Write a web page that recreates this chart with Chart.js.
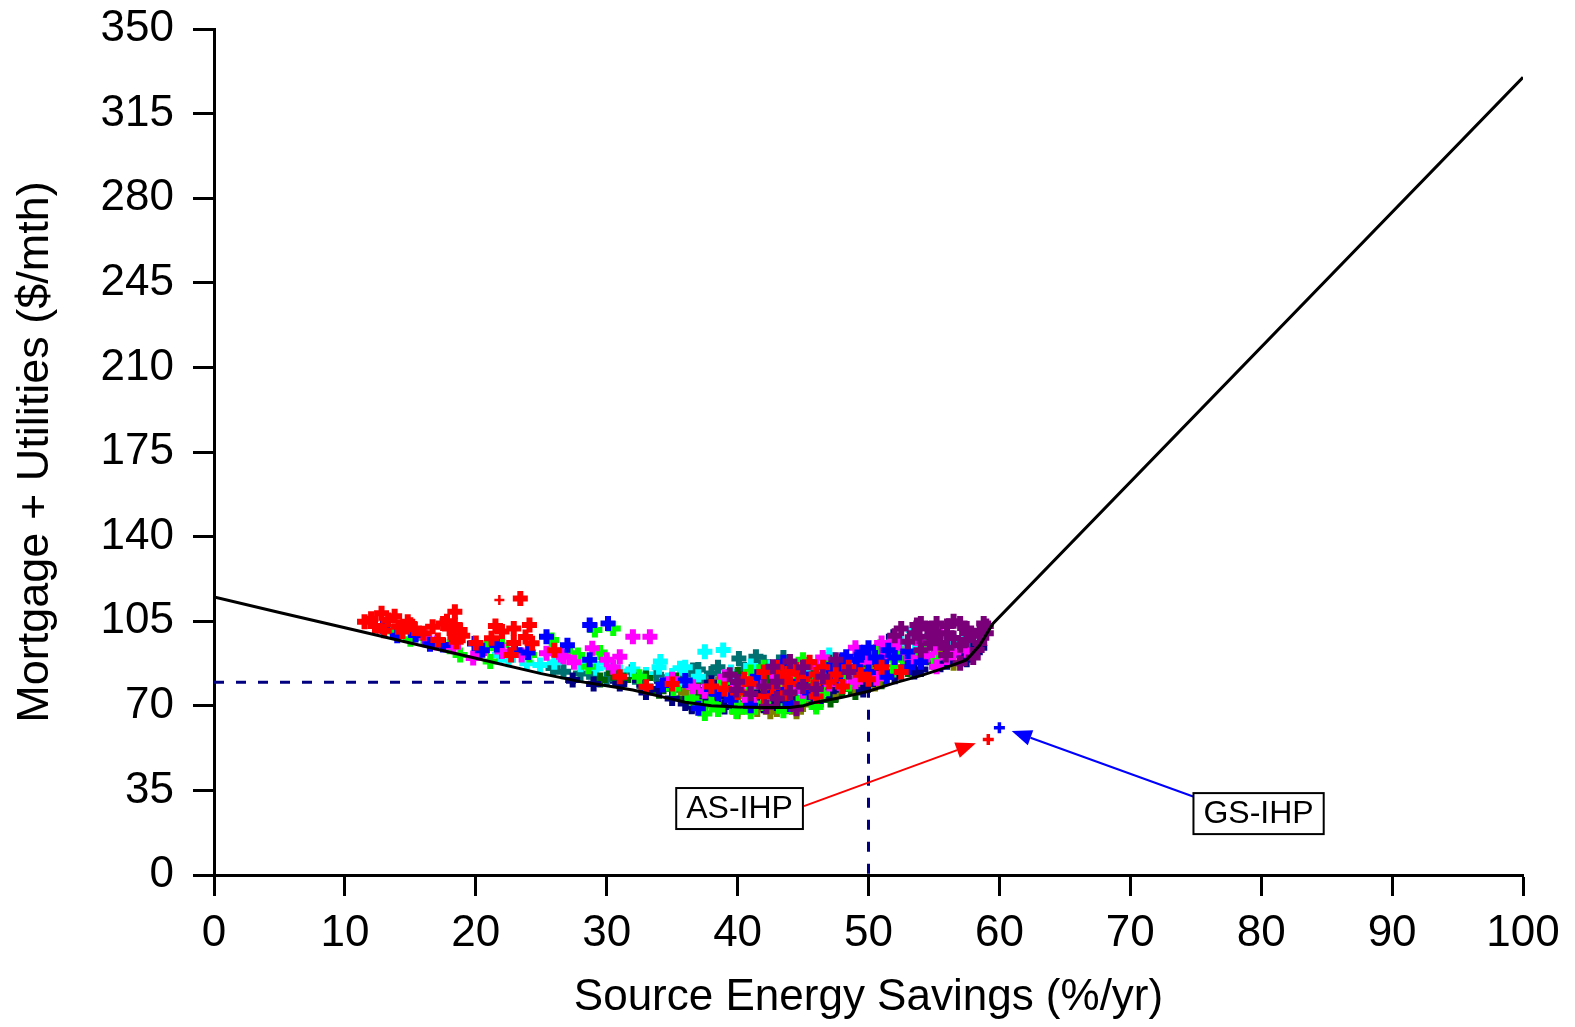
<!DOCTYPE html>
<html>
<head>
<meta charset="utf-8">
<script src="https://cdn.jsdelivr.net/npm/chart.js@4/dist/chart.umd.min.js"></script>
<style>
  html, body { margin: 0; padding: 0; background: #ffffff; }
  #wrap { width: 1575px; height: 1027px; }
</style>
</head>
<body>
<div id="wrap"><canvas id="c" width="1575" height="1027"></canvas></div>
<script>
// ---------- data ----------
const xTicks = [0, 10, 20, 30, 40, 50, 60, 70, 80, 90, 100];
const yTicks = [0, 35, 70, 105, 140, 175, 210, 245, 280, 315, 350];
const xTitle = 'Source Energy Savings (%/yr)';
const yTitle = 'Mortgage + Utilities ($/mth)';

// minimum-cost curve
const curveX = [0, 5, 10, 15, 20, 25, 28, 30, 32, 34, 36, 38, 40, 42, 44, 45, 46, 48, 50, 52, 54, 56, 57.5, 58.5, 59.5, 100];
const curveY = [115, 108.6, 102.3, 96, 89.7, 83.3, 80, 78.3, 76.5, 74, 71.5, 70, 69.5, 69.3, 69.3, 70, 71.5, 73.5, 76, 79.5, 82.5, 86, 89, 95, 104, 330];

// reference dashed lines (target 50 % savings)
const refX = [0, 50, 50];
const refY = [79.7, 79.7, 0];

// scatter of design options, by colour group
const redPts = [[11.5,104.8],[12.8,108.3],[13.3,105.5],[14.1,102.7],[14.8,104.8],[14.4,100.7],[16.7,102.7],[17.1,97.2],[18.4,108.9],[18.4,103.4],[18.4,98.6],[18.0,102],[18.8,101.4],[18.5,96.5],[23.4,114.4],[22.0,100.7],[21.2,97.9],[22.9,102],[24.1,103.4],[22.9,96],[24.3,95.9],[22.7,91],[33.0,77.9],[43.5,82],[42.7,77.9],[43.8,83.4],[45.8,77.9],[49.4,82.8],[43.8,75.2],[46.0,73.8],[41,79],[44,79],[45,81],[47,80],[48,78],[46,83],[42,74],[12.3,103],[15.3,102],
  [39,77],[40.5,81],[42,84],[44.5,85],[46.5,86],[47.5,83],[38,78],[35,79],[31,82],[26,93],[20,96],[16,100],[17.5,104],[13,101],[50,81],[51,86],
  [12,106],[13.8,107],[15,103.5],[17.8,105],[19,99],[23.8,98.5],[21.5,103],[40,75.5],[43,86],[45.5,88],[48.5,86],[52.5,84]];
const redThinPts = [[21.8,113.8]];
const bluePts = [[12.9,102.7],[15.4,99.3],[17.5,95.2],[19.9,95.8],[21.6,95.2],[25.4,98.6],[28.7,103.4],[30.1,104.1],[28.7,89],[42.7,75.2],[34.3,78.6],[48.3,90.3],[49.1,89],[47.8,87],[44.8,80],[51.4,82],[46,78],[47,85],[49,86],[50,84],[52,90],[44,70.5],[48,89],[37,69],[20.5,93],[23,93],
  [38,77],[40,80],[43,76.5],[45,83],[49.5,92],[50.5,90],[51,88],[53,86],[41.5,82],[36,80.5],[24,92],[27,95],[14,99],[16.5,95.5],
  [39.5,72.5],[41,70],[45.5,75.5],[47.5,81.5],[50,94],[51.5,93],[53,92.5],[54,88],[43.5,88],[38.5,75]];
const greenPts = [[13.7,100.7],[18,94.4],[20.8,93.8],[25.8,97.2],[18.8,91],[21.1,88.3],[24.1,91],[29.1,101.4],[30.5,102],[27.2,91.7],[27.8,91],[28.6,86.2],[35.1,77.2],[37.1,69.6],[39.9,67.6],[50.9,94.4],[47.6,84.8],[51.9,84.8],[46.5,75.2],[38,71],[40,70.5],[42,71],[43,78],[46,80],[48,82],[53,88],[55,90],[38.5,68.5],[46,69.5],[16,98],
  [36.5,73],[39,80],[41,78],[44.5,82],[47,86],[49,84],[50.5,92],[52,89],[54,92],[42,86],[32.5,82],[29.5,92],[22,95],[15,97.5],
  [37.5,66.8],[41,67.5],[43.5,68],[45,73],[48.5,79],[50,89.5],[52.5,91.5],[54.5,95],[45,89],[41,84]];
const magentaPts = [[16.1,98.6],[18.3,94.4],[20.3,91.8],[23.5,91],[25.4,91.7],[26.5,91],[19.8,89.8],[32,98.6],[33.3,98.6],[28.9,93.8],[30,89],[31,90.3],[26.7,90.3],[36.6,77.9],[40.9,72.4],[51.9,95.9],[51.4,91.7],[53.2,89.6],[47.8,79.3],[50.6,81.4],[55.2,86.2],[45,76],[49,80],[53,92],[54,96],[50,88],[44,78],[52,94],[27.5,88],
  [39,82],[41.5,80],[44,84],[46,86],[48,88],[49.5,90],[51,96],[55,94],[56.5,92],[35,81],[30.5,86],[22,92.5],[17,96],
  [37.5,76],[40,78],[43,82],[47,79],[49,94],[52,97],[54.5,91],[56,90],[57.5,93],[55.5,100],[46.5,90]];
const cyanPts = [[21.8,91],[23.9,87.6],[24.9,86.9],[37.5,92.4],[38.9,93.1],[34.1,88.3],[35.6,85.5],[29.2,85.5],[30.5,85.5],[36.6,75.2],[53.9,94.4],[53.4,101.4],[55.2,89],[33,83],[34,86],[32,85],[31,84],[36,79],[58,96],[40,68.5],[22.5,89],[26,88],
  [37,82],[39.5,84],[42.5,86],[45.5,84],[52.5,96],[54.5,97],[56.5,96.5],[57.5,99],[28,87],[30,88],
  [35,82.5],[36,86],[41,86.5],[44.5,76],[47,91],[55,101],[56,99],[57.5,95]];
const tealPts = [[25.9,85.6],[26.7,84.1],[40.1,89.6],[41.4,90.3],[36.6,84.8],[38,83.4],[28,83.4],[31.9,84.1],[33.8,82.8],[30,81],[31,80],[33,78],[35,77],[37,74],[39,73],[37.5,80],
  [38.5,86],[42,88],[44,86],[36,83],[39.5,76],[32.5,80],[29,82],
  [34.5,80],[37,85],[40.5,85],[43.5,90],[35.5,78.5]];
const purplePts = [[42.7,86.2],[39.4,82.8],[39.9,76.5],[42.2,69.6],[53.7,103.4],[55.2,104.1],[57,104.1],[58.8,104.1],[54.7,95.9],[57.5,97.2],[55.9,91],[58.3,93.1],[53.9,98.6],[57,87.6],[44,88.3],[41,75],[43,73],[45,78],[43,80],[55,98],[56,100],[58,99],[57,95],[54,93],[44.5,68.8],[56,94],[59,100],
  [40,80],[42,78],[45,86],[46.5,82],[53.5,100],[54.5,102],[56,103],[57.5,102],[58.5,96],[59,103],[55.5,96],[56.5,98],[53,96.5],[52,99],
  [44,75.5],[46,77],[47.5,89],[48.5,84],[55,100.5],[57.5,100],[58.5,101],[54,104],[56.5,105],[52.5,102],[58,90]];
const darkGreenPts = [[29.5,80.7],[31.3,80.7],[35.3,80.7],[40.9,76.5],[43.2,75.2],[45.8,86.2],[43.8,69.6],[47.1,72.4],[34,76],[36,73],[38,72],[41,72],[44,72],[46,75],[48,77],[39.5,78],[42.5,82],
  [37,76.5],[39,80.5],[42,80],[43,84.5],[45.5,80],[47,88],[49,81],[50,86],[33,81.5],[30.5,83.5],[46,70.5],
  [36.5,70],[38.5,70],[41,69.5],[44.5,70],[47.5,74.5],[49,75.5],[51,80],[53,85],[55,88],[40,83]];
const olivePts = [[37.9,75.2],[38.9,72.4],[50.1,84.8],[56.5,87.6],[39,75],[40,74],[41,73],[42,77],[44,76],[48,80],[52,86],[57,92],[41.5,68.5],[43,68.5],
  [36,75.5],[38.5,79],[40.5,77.5],[43.5,79],[45,70.5],[46.5,78],[49,78],[51,83],[53.5,90],[55.5,92],
  [37.5,70.5],[40,67.5],[42.5,67.5],[44.5,67.5],[47.5,76],[50.5,79],[52,83],[54,89]];
const navyPts = [[32.5,80.7],[27.4,80.7],[36.5,69.6],[49.6,76.5],[51.9,98.6],[29,79],[33,75.5],[35,73],[40,71],[45,73],[47,76],[50,79],[52,82],[54,85],[56,88],[58,93],[38,79.5],
  [37.5,72],[39,69.5],[42,70],[43,71],[44,73.5],[46,72],[48,80],[50.5,82],[53,88],[55,90],[57,91],[31,79],[34,77],
  [36,71],[38.5,74],[41.5,75],[43,75],[45,76.5],[47.5,78.5],[49,84],[51,85.5],[53.5,84],[55.5,87],[57.5,89],[58.5,94]];

// integrated heat pump points
const asIhpPt = [[59.15, 56.1]];
const gsIhpPt = [[60.0, 60.9]];

// annotation labels (box centre) and arrows (start -> tip), in data units
const labelText = ['AS-IHP', 'GS-IHP'];
const labelPos = [[40.15, 27.5], [79.8, 25.4]];
const arrowFrom = [[45.07, 28.5], [74.8, 32.5]];
const arrowTo = [[58.2, 54.5], [60.94, 59.6]];
const arrowColor = ['#ff0000', '#0000ff'];

// ---------- build ----------
const toXY = arr => arr.map(p => ({ x: p[0], y: p[1] }));
const FONT = '"Liberation Sans", Arial, Helvetica, sans-serif';

function scatterSet(pts, color, order, r, bw) {
  const rad = r || 7.5;
  const w = bw || 6;
  return {
    type: 'scatter',
    data: toXY(pts),
    showLine: false,
    pointStyle: 'cross',
    pointRadius: rad,
    pointHoverRadius: rad,
    pointBorderWidth: w,
    borderWidth: w,
    borderColor: color,
    backgroundColor: color,
    pointBorderColor: color,
    order: order
  };
}

const datasets = [
  {
    type: 'line',
    data: curveX.map((x, i) => ({ x: x, y: curveY[i] })),
    borderColor: '#000000',
    borderWidth: 3,
    pointRadius: 0,
    fill: false,
    tension: 0,
    order: 0
  },
  scatterSet(asIhpPt, '#ff0000', 1, 5.5, 3.5),
  scatterSet(gsIhpPt, '#0000ff', 1, 5.5, 3.5),
  scatterSet(purplePts, '#7a007a', 2),
  scatterSet(redPts, '#ff0000', 3),
  scatterSet(redThinPts, '#ff0000', 3, 5, 2.5),
  scatterSet(bluePts, '#0000ff', 4),
  scatterSet(magentaPts, '#ff00ff', 5),
  scatterSet(greenPts, '#00ff00', 6),
  scatterSet(navyPts, '#000080', 7),
  scatterSet(olivePts, '#808000', 8),
  scatterSet(darkGreenPts, '#006400', 9),
  scatterSet(cyanPts, '#00ffff', 10),
  scatterSet(tealPts, '#007070', 11),
  {
    type: 'line',
    data: refX.map((x, i) => ({ x: x, y: refY[i] })),
    borderColor: '#000080',
    borderWidth: 3,
    borderDash: [10, 12],
    pointRadius: 0,
    fill: false,
    tension: 0,
    order: 20
  }
];

const annotations = {
  id: 'annotations',
  afterDatasetsDraw(chart) {
    const ctx = chart.ctx;
    const xs = chart.scales.x, ys = chart.scales.y;
    ctx.save();
    for (let i = 0; i < arrowFrom.length; i++) {
      const x1 = xs.getPixelForValue(arrowFrom[i][0]), y1 = ys.getPixelForValue(arrowFrom[i][1]);
      const x2 = xs.getPixelForValue(arrowTo[i][0]), y2 = ys.getPixelForValue(arrowTo[i][1]);
      const ang = Math.atan2(y2 - y1, x2 - x1);
      const hl = 20, hw = 8;
      const bx = x2 - hl * Math.cos(ang), by = y2 - hl * Math.sin(ang);
      ctx.strokeStyle = arrowColor[i];
      ctx.fillStyle = arrowColor[i];
      ctx.lineWidth = 2;
      ctx.beginPath();
      ctx.moveTo(x1, y1);
      ctx.lineTo(bx, by);
      ctx.stroke();
      ctx.beginPath();
      ctx.moveTo(x2, y2);
      ctx.lineTo(bx + hw * Math.sin(ang), by - hw * Math.cos(ang));
      ctx.lineTo(bx - hw * Math.sin(ang), by + hw * Math.cos(ang));
      ctx.closePath();
      ctx.fill();
    }
    ctx.font = '32px ' + FONT;
    ctx.textAlign = 'center';
    ctx.textBaseline = 'middle';
    for (let i = 0; i < labelText.length; i++) {
      const cx = xs.getPixelForValue(labelPos[i][0]);
      const cy = ys.getPixelForValue(labelPos[i][1]);
      const w = ctx.measureText(labelText[i]).width + 20;
      const h = 41;
      ctx.fillStyle = '#ffffff';
      ctx.fillRect(cx - w / 2, cy - h / 2, w, h);
      ctx.strokeStyle = '#000000';
      ctx.lineWidth = 2;
      ctx.strokeRect(cx - w / 2, cy - h / 2, w, h);
      ctx.fillStyle = '#000000';
      ctx.fillText(labelText[i], cx, cy + 1);
    }
    ctx.restore();
  }
};

Chart.defaults.font.family = FONT;
Chart.defaults.color = '#000000';

new Chart(document.getElementById('c'), {
  data: { datasets: datasets },
  options: {
    responsive: false,
    animation: false,
    events: [],
    layout: { padding: { left: 0, right: 52, top: 29, bottom: 0 } },
    plugins: { legend: { display: false }, tooltip: { enabled: false } },
    scales: {
      x: {
        type: 'linear',
        position: 'bottom',
        min: 0, max: 100,
        afterBuildTicks: s => { s.ticks = xTicks.map(v => ({ value: v })); },
        afterFit: s => { s.height = 152; s.paddingLeft = 0; s.paddingRight = 0; },
        ticks: { font: { size: 44 }, color: '#000', padding: 11, maxRotation: 0 },
        grid: { drawOnChartArea: false, drawTicks: true, tickLength: 21, tickWidth: 3, tickColor: '#000' },
        border: { display: true, width: 3, color: '#000' },
        title: { display: true, text: xTitle, font: { size: 44 }, color: '#000', padding: { top: 0, bottom: 3 } }
      },
      y: {
        type: 'linear',
        position: 'left',
        min: 0, max: 350,
        afterBuildTicks: s => { s.ticks = yTicks.map(v => ({ value: v })); },
        afterFit: s => { s.width = 214; s.paddingTop = 0; s.paddingBottom = 0; },
        ticks: { font: { size: 44 }, color: '#000', padding: 19 },
        grid: { drawOnChartArea: false, drawTicks: true, tickLength: 21, tickWidth: 3, tickColor: '#000' },
        border: { display: true, width: 3, color: '#000' },
        title: { display: true, text: yTitle, font: { size: 45 }, color: '#000', padding: { top: 9, bottom: 0 } }
      }
    }
  },
  plugins: [annotations]
});
</script>
</body>
</html>
